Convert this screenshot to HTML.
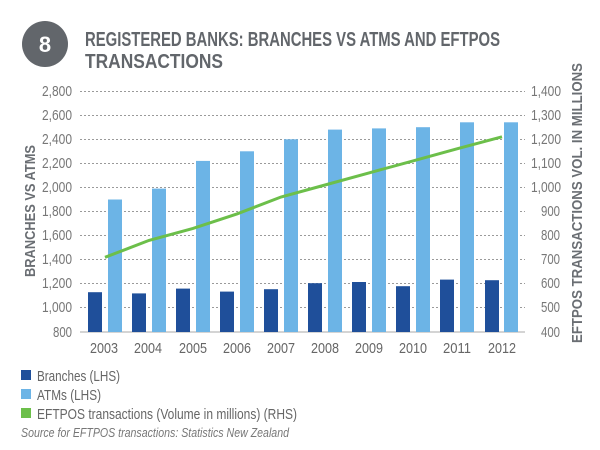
<!DOCTYPE html>
<html><head><meta charset="utf-8"><style>
html,body{margin:0;padding:0;background:#fff;}
svg{display:block;font-family:"Liberation Sans Narrow","Liberation Sans",sans-serif;}
</style></head><body>
<svg width="600" height="450" viewBox="0 0 600 450" xmlns="http://www.w3.org/2000/svg">
<rect width="600" height="450" fill="#fff"/>
<circle cx="45" cy="44" r="23" fill="#62666b"/>
<text x="45" y="52" text-anchor="middle" font-size="22" font-weight="bold" fill="#fff">8</text>
<text x="85" y="46" font-size="20" font-weight="bold" fill="#62666b" textLength="415" lengthAdjust="spacingAndGlyphs">REGISTERED BANKS: BRANCHES VS ATMS AND EFTPOS</text>
<text x="85" y="68" font-size="20" font-weight="bold" fill="#62666b" textLength="138" lengthAdjust="spacingAndGlyphs">TRANSACTIONS</text>
<g stroke="#9a9a9a" stroke-width="1" stroke-dasharray="2,2">
<line x1="80" x2="525" y1="91.5" y2="91.5"/><line x1="80" x2="525" y1="115.5" y2="115.5"/>
<line x1="80" x2="525" y1="139.5" y2="139.5"/><line x1="80" x2="525" y1="163.5" y2="163.5"/>
<line x1="80" x2="525" y1="187.5" y2="187.5"/><line x1="80" x2="525" y1="211.5" y2="211.5"/>
<line x1="80" x2="525" y1="235.5" y2="235.5"/><line x1="80" x2="525" y1="259.5" y2="259.5"/>
<line x1="80" x2="525" y1="283.5" y2="283.5"/><line x1="80" x2="525" y1="307.5" y2="307.5"/>
</g>
<line x1="80" x2="525" y1="332" y2="332" stroke="#aaa"/>
<g font-size="15" fill="#777" text-anchor="end" lengthAdjust="spacingAndGlyphs">
<text x="72" y="96" textLength="30" lengthAdjust="spacingAndGlyphs">2,800</text><text x="72" y="120" textLength="30" lengthAdjust="spacingAndGlyphs">2,600</text><text x="72" y="144" textLength="30" lengthAdjust="spacingAndGlyphs">2,400</text>
<text x="72" y="168" textLength="30" lengthAdjust="spacingAndGlyphs">2,200</text><text x="72" y="192" textLength="30" lengthAdjust="spacingAndGlyphs">2,000</text><text x="72" y="216" textLength="30" lengthAdjust="spacingAndGlyphs">1,800</text>
<text x="72" y="240" textLength="30" lengthAdjust="spacingAndGlyphs">1,600</text><text x="72" y="264" textLength="30" lengthAdjust="spacingAndGlyphs">1,400</text><text x="72" y="288" textLength="30" lengthAdjust="spacingAndGlyphs">1,200</text>
<text x="72" y="312" textLength="30" lengthAdjust="spacingAndGlyphs">1,000</text><text x="72" y="337" textLength="19" lengthAdjust="spacingAndGlyphs">800</text>
</g>
<g font-size="15" fill="#777">
<text x="531" y="96" textLength="30" lengthAdjust="spacingAndGlyphs">1,400</text><text x="531" y="120" textLength="30" lengthAdjust="spacingAndGlyphs">1,300</text><text x="531" y="144" textLength="30" lengthAdjust="spacingAndGlyphs">1,200</text>
<text x="531" y="168" textLength="30" lengthAdjust="spacingAndGlyphs">1,100</text><text x="531" y="192" textLength="30" lengthAdjust="spacingAndGlyphs">1,000</text><text x="541" y="216" textLength="19" lengthAdjust="spacingAndGlyphs">900</text>
<text x="541" y="240" textLength="19" lengthAdjust="spacingAndGlyphs">800</text><text x="541" y="264" textLength="19" lengthAdjust="spacingAndGlyphs">700</text><text x="541" y="288" textLength="19" lengthAdjust="spacingAndGlyphs">600</text>
<text x="541" y="312" textLength="19" lengthAdjust="spacingAndGlyphs">500</text><text x="541" y="337" textLength="19" lengthAdjust="spacingAndGlyphs">400</text>
</g>
<text transform="translate(35,211) rotate(-90)" text-anchor="middle" font-size="15" font-weight="bold" fill="#6a6e73" textLength="132" lengthAdjust="spacingAndGlyphs">BRANCHES VS ATMS</text>
<text transform="translate(582,203) rotate(-90)" text-anchor="middle" font-size="15" font-weight="bold" fill="#6a6e73" textLength="280" lengthAdjust="spacingAndGlyphs">EFTPOS TRANSACTIONS VOL. IN MILLIONS</text>
<g fill="#1f4f9a">
<rect x="88" y="292.2" width="14" height="39.8"/><rect x="132" y="293.4" width="14" height="38.6"/>
<rect x="176" y="288.6" width="14" height="43.4"/><rect x="220" y="291.6" width="14" height="40.4"/>
<rect x="264" y="289.2" width="14" height="42.8"/><rect x="308" y="283.2" width="14" height="48.8"/>
<rect x="352" y="282" width="14" height="50"/><rect x="396" y="286.2" width="14" height="45.8"/>
<rect x="440" y="279.6" width="14" height="52.4"/><rect x="485" y="280.2" width="14" height="51.8"/>
</g>
<g fill="#6cb4e6">
<rect x="108" y="199.5" width="14" height="132.5"/><rect x="152" y="188.6" width="14" height="143.4"/>
<rect x="196" y="160.9" width="14" height="171.1"/><rect x="240" y="151.3" width="14" height="180.7"/>
<rect x="284" y="139.3" width="14" height="192.7"/><rect x="328" y="129.6" width="14" height="202.4"/>
<rect x="372" y="128.4" width="14" height="203.6"/><rect x="416" y="127.2" width="14" height="204.8"/>
<rect x="460" y="122.3" width="14" height="209.7"/><rect x="504" y="122.3" width="14" height="209.7"/>
</g>
<polyline fill="none" stroke="#6cbf4a" stroke-width="3" points="105,257.3 149,240.4 193,228.4 237,213.9 281,197 325,185 369,172.9 413,160.9 457,148.8 502,136.8"/>
<g font-size="15" fill="#666" text-anchor="middle">
<text x="104" y="353" textLength="28" lengthAdjust="spacingAndGlyphs">2003</text><text x="148" y="353" textLength="28" lengthAdjust="spacingAndGlyphs">2004</text><text x="193" y="353" textLength="28" lengthAdjust="spacingAndGlyphs">2005</text>
<text x="237" y="353" textLength="28" lengthAdjust="spacingAndGlyphs">2006</text><text x="281" y="353" textLength="28" lengthAdjust="spacingAndGlyphs">2007</text><text x="325" y="353" textLength="28" lengthAdjust="spacingAndGlyphs">2008</text>
<text x="369" y="353" textLength="28" lengthAdjust="spacingAndGlyphs">2009</text><text x="413" y="353" textLength="28" lengthAdjust="spacingAndGlyphs">2010</text><text x="457" y="353" textLength="28" lengthAdjust="spacingAndGlyphs">2011</text>
<text x="502" y="353" textLength="28" lengthAdjust="spacingAndGlyphs">2012</text>
</g>
<rect x="21" y="370" width="10" height="10" fill="#1f4f9a"/>
<rect x="21" y="389" width="10" height="10" fill="#6cb4e6"/>
<rect x="21" y="408" width="10" height="10" fill="#6cbf4a"/>
<g font-size="15" fill="#666">
<text x="37" y="381" textLength="83" lengthAdjust="spacingAndGlyphs">Branches (LHS)</text>
<text x="37" y="400" textLength="64" lengthAdjust="spacingAndGlyphs">ATMs (LHS)</text>
<text x="37" y="419" textLength="260" lengthAdjust="spacingAndGlyphs">EFTPOS transactions (Volume in millions) (RHS)</text>
</g>
<text x="21" y="437" font-size="13" font-style="italic" fill="#777" textLength="268" lengthAdjust="spacingAndGlyphs">Source for EFTPOS transactions: Statistics New Zealand</text>
</svg>
</body></html>
